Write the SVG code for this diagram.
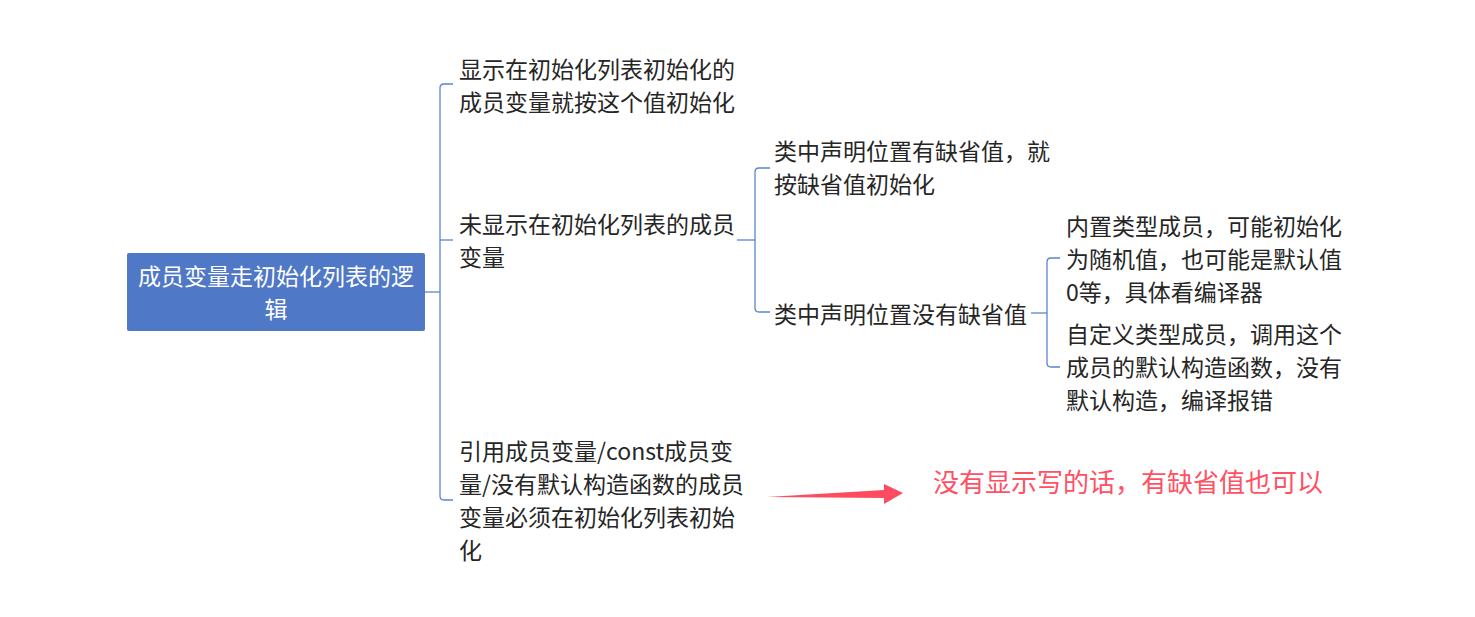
<svg xmlns="http://www.w3.org/2000/svg" width="1475" height="617" viewBox="0 0 1475 617">
<style>
.t{font-family:"Noto Sans CJK SC","Noto Sans",sans-serif;font-size:23px;fill:#262626}
.w{fill:#ffffff}
.c{fill:none;stroke:#5b84d2;stroke-width:1.3}
.r{font-family:"Noto Sans CJK SC","Noto Sans",sans-serif;font-size:26px;fill:#ff5064}
</style>
<rect width="1475" height="617" fill="#ffffff"/>
<g id="connectors">
<path class="c" d="M425,292 H440"/>
<path class="c" d="M453,84 H444 Q440,84 440,88 V496 Q440,500 444,500 H453"/>
<path class="c" d="M440,240 H453"/>
<path class="c" d="M737,240 H755"/>
<path class="c" d="M770,168 H759 Q755,168 755,172 V308 Q755,312 759,312 H770"/>
<path class="c" d="M1031,313 H1047"/>
<path class="c" d="M1060,258 H1051 Q1047,258 1047,262 V363 Q1047,367 1051,367 H1060"/>
</g>
<g id="root">
<rect x="127" y="253" width="298" height="78" rx="2" fill="#4f78c6"/>
<text class="t w" text-anchor="middle" x="276" y="285">成员变量走初始化列表的逻</text>
<text class="t w" text-anchor="middle" x="276" y="318">辑</text>
</g>
<g id="n1">
<text class="t" x="459" y="78">显示在初始化列表初始化的</text>
<text class="t" x="459" y="111">成员变量就按这个值初始化</text>
</g>
<g id="n2">
<text class="t" x="459" y="233">未显示在初始化列表的成员</text>
<text class="t" x="459" y="266">变量</text>
</g>
<g id="n3">
<text class="t" x="459" y="460">引用成员变量/const成员变</text>
<text class="t" x="459" y="493">量/没有默认构造函数的成员</text>
<text class="t" x="459" y="526">变量必须在初始化列表初始</text>
<text class="t" x="459" y="559">化</text>
</g>
<g id="n2a">
<text class="t" x="774" y="160">类中声明位置有缺省值，就</text>
<text class="t" x="774" y="193">按缺省值初始化</text>
</g>
<g id="n2b">
<text class="t" x="774" y="323">类中声明位置没有缺省值</text>
</g>
<g id="n2b1">
<text class="t" x="1066" y="235">内置类型成员，可能初始化</text>
<text class="t" x="1066" y="268">为随机值，也可能是默认值</text>
<text class="t" x="1066" y="301">0等，具体看编译器</text>
</g>
<g id="n2b2">
<text class="t" x="1066" y="343">自定义类型成员，调用这个</text>
<text class="t" x="1066" y="376">成员的默认构造函数，没有</text>
<text class="t" x="1066" y="409">默认构造，编译报错</text>
</g>
<g id="note">
<polygon points="767,497 884,490 884,484 903,493 884,504 884,498" fill="#ff4b5f"/>
<text class="r" x="933" y="492">没有显示写的话，有缺省值也可以</text>
</g>
</svg>
